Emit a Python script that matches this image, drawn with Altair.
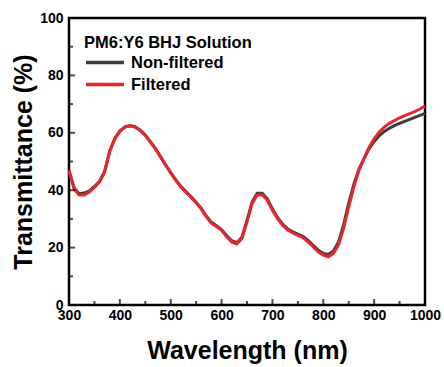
import altair as alt
import pandas as pd

wavelength = list(range(300, 1001, 10))

filtered = [46.9, 40.5, 38.3, 38.3, 39.4, 41.0, 42.9, 46.3, 53.5, 57.9,
            60.5, 62.0, 62.4, 62.0, 60.8, 59.1, 56.8, 54.4, 51.6, 48.7,
            46.0, 43.5, 41.1, 39.3, 37.5, 35.6, 33.5, 30.8, 28.5, 27.3,
            26.0, 23.8, 22.0, 21.3, 23.2, 29.0, 35.3, 38.3, 38.4, 36.5,
            33.0, 30.1, 27.8, 26.1, 25.1, 24.3, 23.5, 22.0, 20.3, 18.5,
            17.4, 16.8, 18.0, 21.0, 26.7, 34.2, 41.1, 46.9, 51.0, 55.0,
            57.9, 60.3, 62.0, 63.3, 64.3, 65.2, 66.0, 66.7, 67.4, 68.3,
            69.3]

non_filtered = [46.9, 40.8, 38.8, 39.0, 39.8, 41.3, 43.1, 46.5, 53.6, 58.0,
                60.6, 62.1, 62.5, 62.1, 60.9, 59.2, 56.9, 54.5, 51.7, 48.8,
                46.1, 43.6, 41.3, 39.5, 37.7, 35.8, 33.7, 31.0, 28.8, 27.6,
                26.3, 24.2, 22.4, 21.7, 23.6, 29.5, 35.9, 38.9, 38.9, 37.0,
                33.5, 30.5, 28.2, 26.5, 25.5, 24.7, 23.9, 22.5, 20.8, 19.1,
                18.0, 17.6, 18.8, 22.0, 28.0, 35.5, 42.0, 47.3, 51.0, 54.4,
                57.0, 59.0, 60.5, 61.6, 62.5, 63.3, 64.0, 64.7, 65.4, 66.1,
                66.8]

series_names = ["Non-filtered", "Filtered"]
series_colors = ["#3d3d3d", "#e8262e"]

x_major = list(range(400, 1000, 100))
x_minor = list(range(350, 1000, 100))
y_major = list(range(20, 100, 20))
y_minor = list(range(10, 100, 20))

rows = []
for w, v in zip(wavelength, non_filtered):
    rows.append({"wavelength": w, "T": v, "series": "Non-filtered"})
for w, v in zip(wavelength, filtered):
    rows.append({"wavelength": w, "T": v, "series": "Filtered"})
df = pd.DataFrame(rows)

W, H = 356, 287
FONT = "Liberation Sans"
xscale = alt.Scale(domain=[300, 1000], nice=False, zero=False)
yscale = alt.Scale(domain=[0, 100], nice=False)

lines = alt.Chart(df).mark_line(strokeWidth=3).encode(
    x=alt.X("wavelength:Q", scale=xscale,
            axis=alt.Axis(orient="bottom", title="Wavelength (nm)",
                          values=list(range(300, 1001, 100)),
                          format="d", tickSize=0, domain=False, grid=False,
                          labelFont=FONT, labelFontSize=14, labelFontWeight="bold",
                          labelColor="black", labelPadding=3, labelFlush=False,
                          titleFont=FONT, titleFontSize=25, titleFontWeight="bold",
                          titleColor="black", titlePadding=16)),
    y=alt.Y("T:Q", scale=yscale,
            axis=alt.Axis(orient="left", title="Transmittance (%)",
                          values=list(range(0, 101, 20)),
                          tickSize=0, domain=False, grid=False,
                          labelFont=FONT, labelFontSize=14, labelFontWeight="bold",
                          labelColor="black", labelPadding=6, labelFlush=False,
                          titleFont=FONT, titleFontSize=25, titleFontWeight="bold",
                          titleColor="black", titlePadding=3)),
    color=alt.Color("series:N",
                    scale=alt.Scale(domain=series_names, range=series_colors),
                    sort=series_names,
                    legend=alt.Legend(title="PM6:Y6 BHJ Solution", orient="none",
                                      legendX=15, legendY=17,
                                      symbolType="stroke", symbolSize=1444,
                                      symbolStrokeWidth=3.5, padding=0,
                                      titleFont=FONT, titleFontSize=16.5,
                                      titleFontWeight="bold", titleColor="black",
                                      titlePadding=0, clipHeight=22, rowPadding=0,
                                      labelFont=FONT, labelFontSize=16.5,
                                      labelFontWeight="bold", labelColor="black",
                                      labelOffset=5)),
)

TICK = "black"
xmaj = alt.Chart(pd.DataFrame({"xv": x_major})).mark_tick(
    color=TICK, orient="vertical", size=6, thickness=2).encode(
    x=alt.X("xv:Q", scale=xscale), y=alt.value(H - 3))
xmin = alt.Chart(pd.DataFrame({"xv": x_minor})).mark_tick(
    color=TICK, orient="vertical", size=4, thickness=2).encode(
    x=alt.X("xv:Q", scale=xscale), y=alt.value(H - 2))
ymaj = alt.Chart(pd.DataFrame({"yv": y_major})).mark_tick(
    color=TICK, orient="horizontal", size=6, thickness=2).encode(
    y=alt.Y("yv:Q", scale=yscale), x=alt.value(3))
ymin = alt.Chart(pd.DataFrame({"yv": y_minor})).mark_tick(
    color=TICK, orient="horizontal", size=4, thickness=2).encode(
    y=alt.Y("yv:Q", scale=yscale), x=alt.value(2))

chart = alt.layer(lines, xmaj, xmin, ymaj, ymin).properties(
    width=W, height=H,
    autosize=alt.AutoSizeParams(type="none"),
    padding={"left": 69, "top": 18, "right": 19, "bottom": 62},
    background="white",
).configure_view(stroke="black", strokeWidth=2.5)

chart.save("out.html", embed_options={"renderer": "svg", "actions": False})
